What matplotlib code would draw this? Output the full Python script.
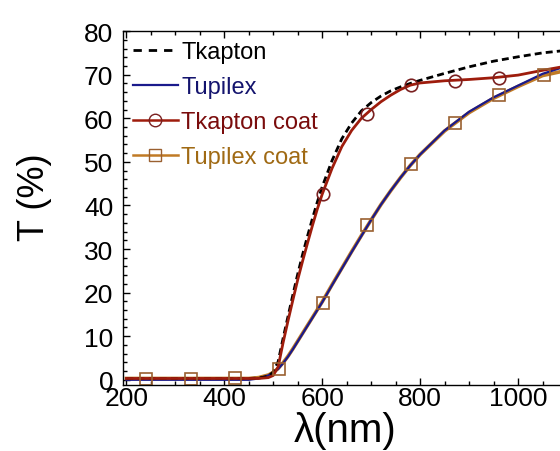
import matplotlib.pyplot as plt
from matplotlib.lines import Line2D
from matplotlib.ticker import MultipleLocator

plt.rcParams['font.family'] = ['Liberation Sans', 'DejaVu Sans']

# wavelength grid (nm)
wl = [200, 250, 300, 350, 400, 450, 470, 490, 500, 510, 520, 530, 540, 550,
      560, 570, 580, 590, 600, 620, 640, 660, 680, 700, 720, 740, 760, 780,
      800, 850, 900, 950, 1000, 1050, 1100]

t_kapton = [0.3, 0.3, 0.3, 0.3, 0.3, 0.3, 0.4, 0.8, 1.8, 4.2, 9.5, 14.5, 19.5, 24.3,
            28.8, 33, 37, 40.8, 44.3, 50.3, 55.3, 58.9, 61.7, 63.6, 65.1, 66.3,
            67.2, 68, 68.7, 70.3, 71.8, 73.1, 74.1, 75, 75.6]
t_upilex = [0, 0, 0, 0, 0, 0, 0.3, 1, 1.6, 2.5, 3.8, 5.3, 7, 8.8,
            10.6, 12.4, 14.2, 16, 17.8, 21.7, 25.5, 29.3, 33, 36.7, 40.2, 43.4,
            46.4, 49.2, 51.7, 57.2, 61.5, 64.8, 67.5, 70.2, 72]
t_kapton_coat = [0.3, 0.3, 0.3, 0.3, 0.3, 0.3, 0.3, 0.5, 1, 3, 8.5, 13.5, 18.3, 23,
                 27.3, 31.4, 35.4, 39.2, 42.6, 48.5, 53.5, 57.2, 60, 62, 63.8, 65.3,
                 66.6, 67.6, 68.1, 68.6, 68.9, 69.3, 69.9, 71, 72]
t_upilex_coat = [0.3, 0.3, 0.3, 0.3, 0.3, 0.3, 0.5, 1.1, 1.7, 2.6, 3.9, 5.4, 7.1, 8.9,
                 10.7, 12.5, 14.3, 16.1, 17.9, 21.8, 25.6, 29.4, 33.1, 36.7, 40.2, 43.4,
                 46.4, 49.2, 51.7, 57.1, 61.3, 64.6, 67.3, 69.8, 71]

# marker positions
circ_wl = [602, 692, 782, 872, 962]
circ_t = [42.7, 61, 67.7, 68.6, 69.2]
sq_wl = [241, 331, 421, 512, 602, 692, 782, 872, 962, 1052]
sq_t = [0.2, 0.2, 0.3, 2.5, 17.7, 35.5, 49.5, 58.8, 65.3, 70]

labels = ['Tkapton', 'Tupilex', 'Tkapton coat', 'Tupilex coat']
c_kapton = 'black'
c_upilex = '#1a1a8c'
c_kcoat = '#9e1c0c'
c_ucoat = '#c07a25'
c_circ = '#7a2020'
c_sq = '#9a6030'
text_colors = ['black', '#14146e', '#7a0c0c', '#a06a14']

fig = plt.figure(figsize=(5.6, 4.52), dpi=100)
ax = fig.add_axes([0.2196, 0.146, 0.793, 0.783])

ax.plot(wl, t_upilex_coat, color=c_ucoat, lw=2.6)
ax.plot(wl, t_upilex, color=c_upilex, lw=1.6)
ax.plot(wl, t_kapton, color=c_kapton, lw=2.0, ls=(0, (2.5, 1.5)))
ax.plot(wl, t_kapton_coat, color=c_kcoat, lw=2.0)
ax.plot(circ_wl, circ_t, ls='none', marker='o', ms=9, mfc='none', mec=c_circ, mew=1.2)
ax.plot(sq_wl, sq_t, ls='none', marker='s', ms=9, mfc='none', mec=c_sq, mew=1.2)

ax.set_xlim(193, 1100)
ax.set_ylim(-1.2, 80)
ax.xaxis.set_major_locator(MultipleLocator(200))
ax.xaxis.set_minor_locator(MultipleLocator(50))
ax.yaxis.set_major_locator(MultipleLocator(10))
ax.yaxis.set_minor_locator(MultipleLocator(2))
ax.tick_params(which='both', direction='in', top=True, right=True, width=1)
ax.tick_params(which='major', length=5)
ax.tick_params(which='minor', length=3)
ax.tick_params(axis='x', labelsize=19, pad=1)
ax.tick_params(axis='y', labelsize=19, pad=7)
for s in ax.spines.values():
    s.set_linewidth(1)

ax.set_xlabel('λ(nm)', fontsize=29, labelpad=0.5)
ax.set_ylabel('T (%)', fontsize=26, va='center')
ax.yaxis.set_label_coords(-0.2, 0.534)

handles = [
    Line2D([], [], color=c_kapton, lw=2.0, ls=(0, (3, 2.5))),
    Line2D([], [], color=c_upilex, lw=1.6),
    Line2D([], [], color=c_kcoat, lw=1.8, marker='o', ms=9, mfc='none', mec=c_circ),
    Line2D([], [], color=c_ucoat, lw=1.8, marker='s', ms=9, mfc='none', mec=c_sq),
]
ax.legend(handles, labels, loc='upper left', bbox_to_anchor=(0.012, 0.985),
          frameon=False, fontsize=17, handlelength=1.9, handletextpad=0.15,
          labelspacing=0.55, borderaxespad=0, borderpad=0.2, labelcolor=text_colors)

fig.savefig('out.png', dpi=100)
